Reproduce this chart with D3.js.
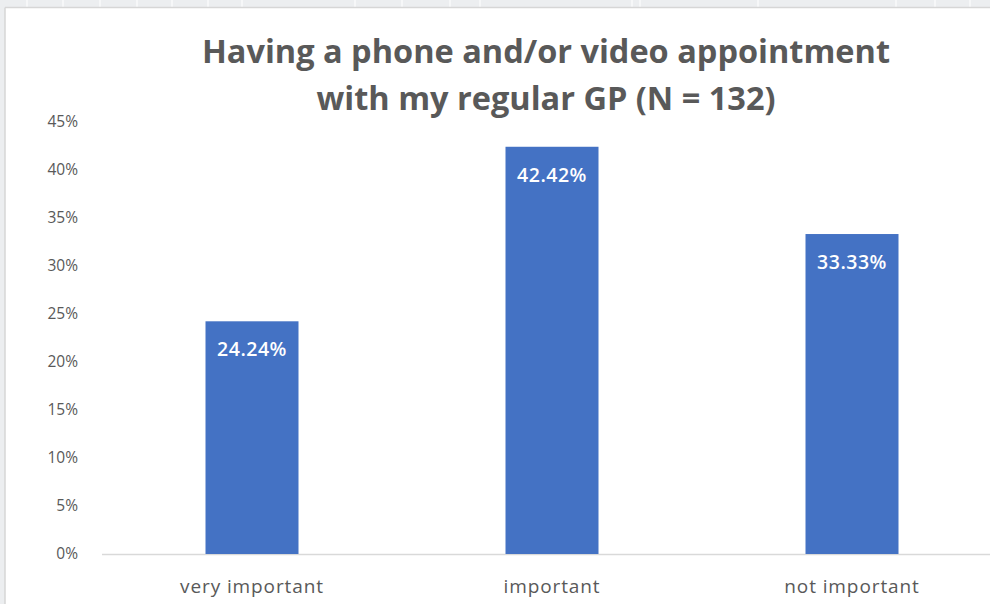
<!DOCTYPE html>
<html>
<head>
<meta charset="utf-8">
<script src="https://cdn.jsdelivr.net/npm/d3@7"></script>
<style>
  body { margin: 0; background: #ffffff; }
  svg { display: block; }
</style>
</head>
<body>
<div id="chart"></div>
<script>
// data
var categories = ["very important", "important", "not important"];
var percents = [24.24, 42.42, 33.33];
var yTicks = [0, 5, 10, 15, 20, 25, 30, 35, 40, 45];
var titleLines = ["Having a phone and/or video appointment", "with my regular GP (N = 132)"];

var width = 990, height = 604;
var svg = d3.select("#chart").append("svg")
    .attr("width", width)
    .attr("height", height);

// spreadsheet behind the chart
svg.append("rect").attr("x", 0).attr("y", 0).attr("width", width).attr("height", 8).attr("fill", "#eceef0");
svg.append("rect").attr("x", 0).attr("y", 0).attr("width", 5).attr("height", height).attr("fill", "#eceef0");
var colLines = [27, 63, 100, 137, 172, 208, 242, 355, 402, 450, 480, 632, 640, 758, 896, 935, 970];
svg.selectAll("line.col")
    .data(colLines)
    .enter().append("line")
    .attr("class", "col")
    .attr("x1", function (d) { return d; })
    .attr("x2", function (d) { return d; })
    .attr("y1", 0).attr("y2", 7)
    .attr("stroke", "#f6f7f8").attr("stroke-width", 2);
svg.append("line").attr("x1", 5).attr("x2", width).attr("y1", 7.5).attr("y2", 7.5)
    .attr("stroke", "#d6d6d6").attr("stroke-width", 1.5);
svg.append("line").attr("x1", 5).attr("x2", 5).attr("y1", 7.5).attr("y2", height)
    .attr("stroke", "#d6d6d6").attr("stroke-width", 1.5);

var x = d3.scaleBand()
    .domain(categories)
    .range([102, 1002])
    .paddingInner(0.69)
    .paddingOuter(0.345);

var y = d3.scaleLinear()
    .domain([0, 45])
    .range([554, 122]);

// y axis labels
var yAxis = d3.axisLeft(y)
    .tickValues(yTicks)
    .tickSize(0)
    .tickPadding(0)
    .tickFormat(function (d) { return d + "%"; });
var yg = svg.append("g")
    .attr("transform", "translate(78,0)")
    .call(yAxis);
yg.select(".domain").remove();
yg.selectAll("text")
    .attr("font-family", "'Open Sans', sans-serif")
    .attr("font-size", 15.5)
    .attr("fill", "#595959");

// baseline
svg.append("line")
    .attr("x1", 102).attr("x2", width)
    .attr("y1", y(0) + 0.5).attr("y2", y(0) + 0.5)
    .attr("stroke", "#d9d9d9").attr("stroke-width", 1.5);

// bars
svg.selectAll("rect.bar")
    .data(percents)
    .enter().append("rect")
    .attr("class", "bar")
    .attr("x", function (d, i) { return x(categories[i]); })
    .attr("y", function (d) { return y(d); })
    .attr("width", x.bandwidth())
    .attr("height", function (d) { return y(0) - y(d); })
    .attr("fill", "#4472c4");

// value labels inside the bars
svg.selectAll("text.val")
    .data(percents)
    .enter().append("text")
    .attr("class", "val")
    .attr("x", function (d, i) { return x(categories[i]) + x.bandwidth() / 2; })
    .attr("y", function (d) { return y(d) + 35; })
    .attr("text-anchor", "middle")
    .attr("font-family", "'Open Sans', sans-serif")
    .attr("font-weight", 600)
    .attr("font-size", 19.5)
    .attr("letter-spacing", 0.5)
    .attr("fill", "#ffffff")
    .text(function (d) { return d.toFixed(2) + "%"; });

// category labels
var xAxis = d3.axisBottom(x).tickSize(0).tickPadding(0);
var xg = svg.append("g")
    .attr("transform", "translate(0," + (y(0) + 39) + ")")
    .call(xAxis);
xg.select(".domain").remove();
xg.selectAll("text")
    .attr("dy", 0)
    .attr("font-family", "'Open Sans', sans-serif")
    .attr("font-size", 19)
    .attr("letter-spacing", 0.9)
    .attr("fill", "#595959");

// title
svg.selectAll("text.title")
    .data(titleLines)
    .enter().append("text")
    .attr("class", "title")
    .attr("x", 546)
    .attr("y", function (d, i) { return 63 + i * 47; })
    .attr("text-anchor", "middle")
    .attr("font-family", "'Open Sans', sans-serif")
    .attr("font-weight", 700)
    .attr("font-size", 32.5)
    .attr("fill", "#595959")
    .text(function (d) { return d; });
</script>
</body>
</html>
